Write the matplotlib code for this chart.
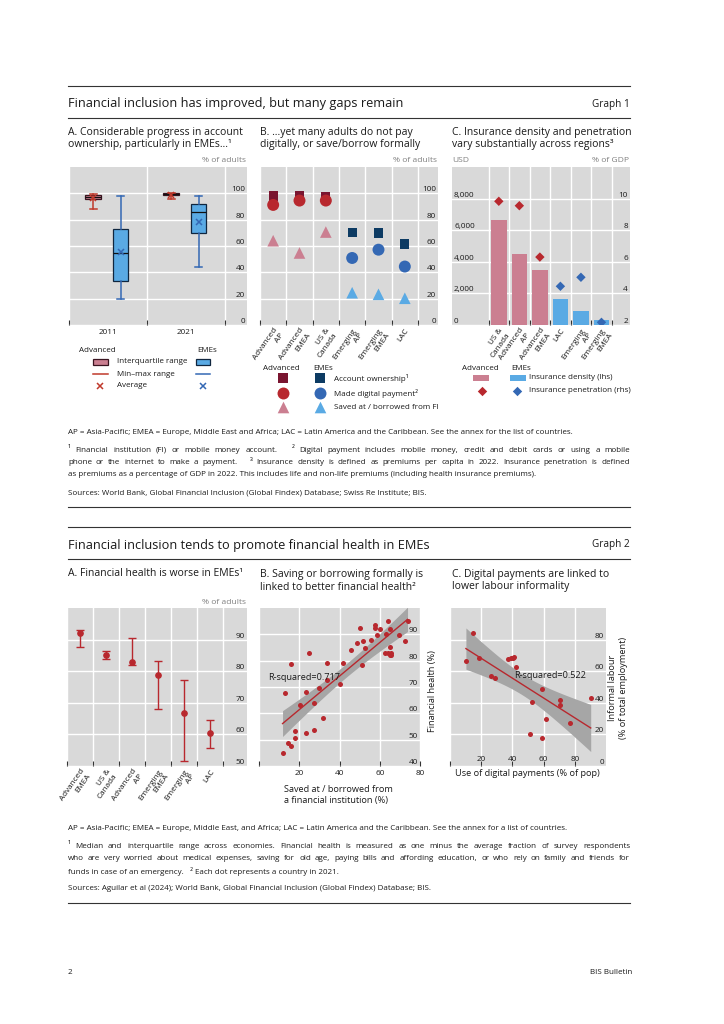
import numpy as np
import matplotlib.pyplot as plt
from matplotlib.patches import Rectangle

plt.rcParams['font.family'] = ['Open Sans', 'DejaVu Sans']

W, H = 724, 1024

# Graph 1, panel A: account ownership (% of adults), box statistics
years = ['2011', '2021']
adv_lo = [87.9, 95.5]
adv_q1 = [95.5, 98.4]
adv_med = [97.2, 99.2]
adv_q3 = [99.0, 99.9]
adv_hi = [99.5, 100.0]
adv_avg = [96.2, 98.7]
eme_lo = [19.5, 44.2]
eme_q1 = [33.3, 69.8]
eme_med = [54.7, 85.7]
eme_q3 = [72.8, 91.7]
eme_hi = [97.7, 98.2]
eme_avg = [55.2, 78.6]

# Graph 1, panel B: % of adults
regions_b = ['Advanced\nAP', 'Advanced\nEMEA', 'US &\nCanada', 'Emerging\nAP', 'Emerging\nEMEA', 'LAC']
adv_flag_b = [True, True, True, False, False, False]
account = [98.0, 98.2, 97.7, 70.3, 69.8, 61.5]
digital = [91.2, 94.5, 94.5, 50.9, 57.2, 44.4]
saved = [64.0, 54.7, 70.6, 24.5, 23.3, 20.3]

# Graph 1, panel C: insurance density (USD) and penetration (% of GDP)
regions_c = ['US &\nCanada', 'Advanced\nAP', 'Advanced\nEMEA', 'LAC', 'Emerging\nAP', 'Emerging\nEMEA']
adv_flag_c = [True, True, True, False, False, False]
density = [6660, 4470, 3510, 1660, 915, 320]
penetration = [9.83, 9.55, 6.3, 4.45, 5.02, 2.17]

# Graph 2, panel A: financial health, median and interquartile range
regions_fh = ['Advanced\nEMEA', 'US &\nCanada', 'Advanced\nAP', 'Emerging\nEMEA', 'Emerging\nAP', 'LAC']
fh_med = [92.2, 85.1, 82.9, 78.7, 66.8, 60.6]
fh_q1 = [87.7, 83.8, 81.9, 68.0, 51.5, 55.8]
fh_q3 = [92.9, 86.3, 90.5, 83.3, 77.2, 64.4]

# Graph 2, panel B: one dot per country
saved_fi = [11.7, 14.2, 15.8, 13.0, 15.8, 17.8, 17.8, 20.5, 23.3, 23.3, 25.0, 27.2, 27.2, 30.0,
            31.7, 33.8, 33.8, 40.0, 41.7, 45.5, 48.8, 50.0, 51.2, 51.8, 52.7, 55.8, 57.5, 57.8,
            58.8, 60.2, 62.5, 63.3, 64.2, 64.2, 65.0, 65.0, 65.0, 65.5, 65.8, 69.5, 72.5, 73.8]
fin_health = [44.9, 48.9, 47.5, 67.6, 78.6, 53.3, 50.8, 63.3, 52.5, 68.0, 83.0, 53.5, 63.9, 69.7,
              58.1, 72.5, 79.1, 71.3, 79.1, 83.9, 86.8, 92.4, 78.5, 87.3, 84.8, 87.7, 92.5, 93.4,
              89.7, 92.2, 83.0, 90.3, 94.9, 83.0, 91.9, 85.0, 82.3, 83.0, 82.0, 89.9, 87.3, 94.9]

# Graph 2, panel C
digital_pay = [10.2, 14.7, 18.3, 26.4, 28.9, 37.4, 39.1, 40.1, 40.9, 42.1, 58.9, 52.8, 51.1,
               58.7, 61.3, 70.4, 70.4, 77.2, 90.2]
informal = [66.7, 84.0, 68.6, 57.1, 55.4, 68.0, 68.2, 68.4, 69.1, 62.7, 48.6, 40.4, 20.2,
            17.9, 29.7, 41.5, 38.7, 27.0, 43.0]

# colours
BG = '#d9d9d9'
RED = '#b8282e'
MAROON = '#7a1530'
PINK = '#cb7f91'
NAVY = '#0d3b63'
BLUE = '#3468b4'
LBLUE = '#5aaae4'
TXT = '#1a1a1a'
GREY = '#808080'

S_TITLE = 9.2
S_GNO = 7.2
S_PANEL = 7.45
S_TICK = 5.9
S_UNIT = 6.1
S_LEG = 5.75
S_AXL = 6.6
S_FOOT = 5.75

fig = plt.figure(figsize=(W / 100, H / 100), dpi=100)
lay = fig.add_axes([0, 0, 1, 1])
lay.set_xlim(0, W)
lay.set_ylim(H, 0)
lay.axis('off')


def txt(x, y, s, size, **kw):
    kw.setdefault('va', 'center')
    kw.setdefault('ha', 'left')
    kw.setdefault('color', TXT)
    return lay.text(x, y, s, fontsize=size, **kw)


def pax(x0, y0, x1, y1):
    return fig.add_axes([x0 / W, 1 - y1 / H, (x1 - x0) / W, (y1 - y0) / H])


def style(ax, xlim, ylim, yticks, ylabels, side='right'):
    ax.set_facecolor(BG)
    for sp in ax.spines.values():
        sp.set_visible(False)
    ax.set_xlim(xlim)
    ax.set_ylim(ylim)
    ax.set_yticks(yticks, ylabels)
    ax.grid(axis='y', which='major', color='white', lw=1.0)
    ax.set_axisbelow(True)
    if side == 'right':
        ax.yaxis.tick_right()
    ax.tick_params(axis='y', length=0, pad=-1.5, labelsize=S_TICK, labelcolor=TXT)
    plt.setp(ax.get_yticklabels(), ha='right' if side == 'right' else 'left', va='bottom')


def cats(ax, labels, rot=55):
    n = len(labels)
    ax.set_xticks(np.arange(n + 1), minor=True)
    ax.set_xticks(np.arange(n) + 0.5, labels)
    ax.grid(axis='x', which='minor', color='white', lw=1.0)
    ax.tick_params(axis='x', which='minor', direction='in', length=3.5, width=0.8, color='#333333')
    ax.tick_params(axis='x', which='major', length=0, pad=1.5, labelsize=S_TICK, labelcolor=TXT)
    if rot:
        plt.setp(ax.get_xticklabels(), rotation=rot, ha='right', va='top', rotation_mode='anchor')


def fit_band(ax, x, y, t):
    x = np.asarray(x)
    y = np.asarray(y)
    b, a = np.polyfit(x, y, 1)
    xs = np.linspace(x.min(), x.max(), 100)
    n = len(x)
    res = y - (a + b * x)
    s = np.sqrt(res @ res / (n - 2))
    se = s * np.sqrt(1 / n + (xs - x.mean()) ** 2 / np.sum((x - x.mean()) ** 2))
    ax.fill_between(xs, a + b * xs - t * se, a + b * xs + t * se, color='#a6a6a6', lw=0, zorder=2)
    ax.plot(xs, a + b * xs, color=RED, lw=1.0, zorder=3)


# ---------------- page frame ----------------
for y in [86, 118, 507, 527, 559, 903]:
    lay.plot([68, 630], [y, y], color='#333333', lw=0.8)

txt(68, 104, 'Financial inclusion has improved, but many gaps remain', S_TITLE)
txt(630, 104, 'Graph 1', S_GNO, ha='right')
txt(68, 545, 'Financial inclusion tends to promote financial health in EMEs', S_TITLE)
txt(630, 545, 'Graph 2', S_GNO, ha='right')

txt(68, 132, 'A. Considerable progress in account', S_PANEL)
txt(68, 145, 'ownership, particularly in EMEs…¹', S_PANEL)
txt(260, 132, 'B. …yet many adults do not pay', S_PANEL)
txt(260, 145, 'digitally, or save/borrow formally', S_PANEL)
txt(452, 132, 'C. Insurance density and penetration', S_PANEL)
txt(452, 145, 'vary substantially across regions³', S_PANEL)
txt(68, 574, 'A. Financial health is worse in EMEs¹', S_PANEL)
txt(260, 574, 'B. Saving or borrowing formally is', S_PANEL)
txt(260, 587, 'linked to better financial health²', S_PANEL)
txt(452, 574, 'C. Digital payments are linked to', S_PANEL)
txt(452, 587, 'lower labour informality', S_PANEL)

txt(246, 161, '% of adults', S_UNIT, ha='right', color=GREY)
txt(437, 161, '% of adults', S_UNIT, ha='right', color=GREY)
txt(452, 161, 'USD', S_UNIT, color=GREY)
txt(629, 161, '% of GDP', S_UNIT, ha='right', color=GREY)
txt(246, 603, '% of adults', S_UNIT, ha='right', color=GREY)

# ---------------- Graph 1 A ----------------
axA = pax(69, 167, 247, 325)
style(axA, (0, 2.28), (0, 120), [0, 20, 40, 60, 80, 100], ['0', '20', '40', '60', '80', '100'])
cats(axA, years, rot=0)
axA.tick_params(axis='x', which='major', pad=3)
centers = np.arange(len(years)) + 0.5


def boxes(ax, pos, lo, q1, med, q3, hi, avg, face, edge, wcol):
    stats = [dict(med=m, q1=a, q3=b, whislo=l, whishi=h, mean=v, fliers=[])
             for l, a, m, b, h, v in zip(lo, q1, med, q3, hi, avg)]
    ax.bxp(stats, positions=pos, widths=0.2, capwidths=0.09, patch_artist=True,
           showmeans=True, showfliers=False, manage_ticks=False,
           boxprops=dict(facecolor=face, edgecolor=edge, linewidth=0.9),
           medianprops=dict(color='#111111', linewidth=0.9),
           whiskerprops=dict(color=wcol, linewidth=1.1),
           capprops=dict(color=wcol, linewidth=1.1),
           meanprops=dict(marker='x', markeredgecolor=wcol, markersize=4, markeredgewidth=1.1),
           zorder=3)


boxes(axA, centers - 0.19, adv_lo, adv_q1, adv_med, adv_q3, adv_hi, adv_avg, PINK, '#3a1420', '#c0392b')
boxes(axA, centers + 0.16, eme_lo, eme_q1, eme_med, eme_q3, eme_hi, eme_avg, LBLUE, '#10263f', BLUE)

txt(79, 351, 'Advanced', S_LEG)
txt(197, 351, 'EMEs', S_LEG)
lay.add_patch(Rectangle((93, 358.5), 15, 6.5, facecolor=PINK, edgecolor='#3a1420', lw=0.9))
lay.add_patch(Rectangle((196, 358.5), 14, 6.5, facecolor=LBLUE, edgecolor='#10263f', lw=0.9))
txt(117, 361.7, 'Interquartile range', S_LEG)
lay.plot([93, 108], [374, 374], color='#c0392b', lw=1.1)
lay.plot([196, 210], [374, 374], color=BLUE, lw=1.1)
txt(117, 374, 'Min–max range', S_LEG)
lay.plot([100], [385.7], marker='x', color='#c0392b', ms=4, mew=1.1)
lay.plot([203], [385.7], marker='x', color=BLUE, ms=4, mew=1.1)
txt(117, 385.7, 'Average', S_LEG)

# ---------------- Graph 1 B ----------------
axB = pax(260, 167, 438, 325)
style(axB, (0, 6.76), (0, 120), [0, 20, 40, 60, 80, 100], ['0', '20', '40', '60', '80', '100'])
cats(axB, regions_b)
xb = np.arange(len(regions_b)) + 0.5


def pick(flags, a, e):
    return [a if f else e for f in flags]


axB.scatter(xb, account, marker='s', s=45, c=pick(adv_flag_b, MAROON, NAVY), zorder=3, lw=0)
axB.scatter(xb, digital, marker='o', s=74, c=pick(adv_flag_b, RED, BLUE), zorder=4, lw=0)
axB.scatter(xb, saved, marker='^', s=70, c=pick(adv_flag_b, PINK, LBLUE), zorder=3, lw=0)

txt(263, 368, 'Advanced', S_LEG)
txt(313, 368, 'EMEs', S_LEG)
for yy, mk, s, ca, ce, lab in [(378.3, 's', 45, MAROON, NAVY, 'Account ownership¹'),
                               (393.3, 'o', 74, RED, BLUE, 'Made digital payment²'),
                               (407.3, '^', 70, PINK, LBLUE, 'Saved at / borrowed from FI')]:
    lay.scatter([283], [yy], marker=mk, s=s, color=ca, lw=0)
    lay.scatter([320], [yy], marker=mk, s=s, color=ce, lw=0)
    txt(334, yy, lab, S_LEG)

# ---------------- Graph 1 C ----------------
axC = pax(452, 167, 630, 325)
style(axC, (-1.78, 6.89), (0, 10000), [0, 2000, 4000, 6000, 8000],
      ['0', '2,000', '4,000', '6,000', '8,000'], side='left')
cats(axC, regions_c)
xc = np.arange(len(regions_c)) + 0.5
axC.bar(xc, density, width=0.76, color=pick(adv_flag_c, PINK, LBLUE), zorder=2)
axC2 = axC.twinx()
for sp in axC2.spines.values():
    sp.set_visible(False)
axC2.set_ylim(2, 12)
axC2.set_yticks([2, 4, 6, 8, 10], ['2', '4', '6', '8', '10'])
axC2.tick_params(axis='y', length=0, pad=-1.5, labelsize=S_TICK, labelcolor=TXT)
plt.setp(axC2.get_yticklabels(), ha='right', va='bottom')
axC2.scatter(xc, penetration, marker='D', s=23, c=pick(adv_flag_c, RED, BLUE), zorder=4, lw=0)

txt(462, 368, 'Advanced', S_LEG)
txt(511, 368, 'EMEs', S_LEG)
lay.add_patch(Rectangle((473, 374.5), 16, 6.5, facecolor=PINK, lw=0))
lay.add_patch(Rectangle((510, 374.5), 16, 6.5, facecolor=LBLUE, lw=0))
txt(529, 377.7, 'Insurance density (lhs)', S_LEG)
lay.scatter([482], [390.7], marker='D', s=23, color=RED, lw=0)
lay.scatter([517], [390.7], marker='D', s=23, color=BLUE, lw=0)
txt(529, 390.7, 'Insurance penetration (rhs)', S_LEG)

# ---------------- Graph 2 A ----------------
ax2A = pax(67, 608, 247, 766)
style(ax2A, (0, 6.92), (50, 100), [50, 60, 70, 80, 90], ['50', '60', '70', '80', '90'])
cats(ax2A, regions_fh)
xa = np.arange(len(regions_fh)) + 0.5
ax2A.errorbar(xa, fh_med, yerr=[np.subtract(fh_med, fh_q1), np.subtract(fh_q3, fh_med)],
              fmt='o', color=RED, ms=3.8, capsize=2.6, elinewidth=1.0, capthick=1.0, zorder=3)

# ---------------- Graph 2 B ----------------
ax2B = pax(259, 608, 420, 766)
style(ax2B, (0, 80), (40, 100), [40, 50, 60, 70, 80, 90], ['40', '50', '60', '70', '80', '90'])
ax2B.set_xticks([0, 20, 40, 60, 80], ['', '20', '40', '60', '80'])
ax2B.grid(axis='x', color='white', lw=1.0)
ax2B.tick_params(axis='x', direction='in', length=3.5, width=0.8, color='#333333', pad=3,
                 labelsize=S_TICK, labelcolor=TXT)
fit_band(ax2B, saved_fi, fin_health, 2.02)
ax2B.scatter(saved_fi, fin_health, s=13, color=RED, lw=0, zorder=4)
ax2B.text(4.5, 73.5, 'R-squared=0.717', fontsize=S_AXL, color=TXT, va='center', zorder=5)
txt(284, 790, 'Saved at / borrowed from', S_AXL)
txt(284, 801, 'a financial institution (%)', S_AXL)
txt(432, 691, 'Financial health (%)', S_AXL, rotation=90, ha='center')

# ---------------- Graph 2 C ----------------
ax2C = pax(450, 608, 606, 766)
style(ax2C, (0, 100), (0, 100), [0, 20, 40, 60, 80], ['0', '20', '40', '60', '80'])
ax2C.set_xticks([0, 20, 40, 60, 80], ['', '20', '40', '60', '80'])
ax2C.grid(axis='x', color='white', lw=1.0)
ax2C.tick_params(axis='x', direction='in', length=3.5, width=0.8, color='#333333', pad=-2,
                 labelsize=S_TICK, labelcolor=TXT)
plt.setp(ax2C.get_xticklabels(), va='bottom')
fit_band(ax2C, digital_pay, informal, 2.11)
ax2C.scatter(digital_pay, informal, s=13, color=RED, lw=0, zorder=4)
ax2C.text(41, 57.5, 'R-squared=0.522', fontsize=S_AXL, color=TXT, va='center', zorder=5)
txt(527, 773, 'Use of digital payments (% of pop)', S_AXL, ha='center')
txt(618, 688, 'Informal labour\n(% of total employment)', S_AXL, rotation=90, ha='center',
    multialignment='center')

# ---------------- footnotes ----------------
renderer = fig.canvas.get_renderer()
# text widths come back in display units; convert them to page pixels of the overlay axes
px_scale = W / lay.get_window_extent(renderer).width


def jline(x0, x1, y, line, size):
    words = line.split(' ')
    arts = [txt(0, y, w, size) for w in words]
    widths = [a.get_window_extent(renderer).width * px_scale if w else 0 for a, w in zip(arts, words)]
    gap = (x1 - x0 - sum(widths)) / (len(words) - 1)
    x = x0
    for a, w in zip(arts, widths):
        a.set_x(x)
        x += w + gap


txt(68, 433, 'AP = Asia-Pacific; EMEA = Europe, Middle East and Africa; LAC = Latin America and the '
    'Caribbean. See the annex for the list of countries.', S_FOOT)
jline(68, 630, 450, '¹ Financial institution (FI) or mobile money account.   ² Digital payment includes '
      'mobile money, credit and debit cards or using a mobile', S_FOOT)
jline(68, 630, 462.5, 'phone or the internet to make a payment.   ³ Insurance density is defined as premiums '
      'per capita in 2022. Insurance penetration is defined', S_FOOT)
txt(68, 475, 'as premiums as a percentage of GDP in 2022. This includes life and non-life premiums '
    '(including health insurance premiums).', S_FOOT)
txt(68, 493, 'Sources: World Bank, Global Financial Inclusion (Global Findex) Database; Swiss Re Institute; BIS.',
    S_FOOT)

txt(68, 829, 'AP = Asia-Pacific; EMEA = Europe, Middle East, and Africa; LAC = Latin America and the '
    'Caribbean. See the annex for a list of countries.', S_FOOT)
jline(68, 630, 846, '¹ Median and interquartile range across economies. Financial health is measured as one '
      'minus the average fraction of survey respondents', S_FOOT)
jline(68, 630, 858.5, 'who are very worried about medical expenses, saving for old age, paying bills and '
      'affording education, or who rely on family and friends for', S_FOOT)
txt(68, 871, 'funds in case of an emergency.   ² Each dot represents a country in 2021.', S_FOOT)
txt(68, 889, 'Sources: Aguilar et al (2024); World Bank, Global Financial Inclusion (Global Findex) '
    'Database; BIS.', S_FOOT)

txt(68, 972, '2', S_FOOT)
txt(632, 972, 'BIS Bulletin', S_FOOT, ha='right')

fig.savefig('out.png', dpi=100)
